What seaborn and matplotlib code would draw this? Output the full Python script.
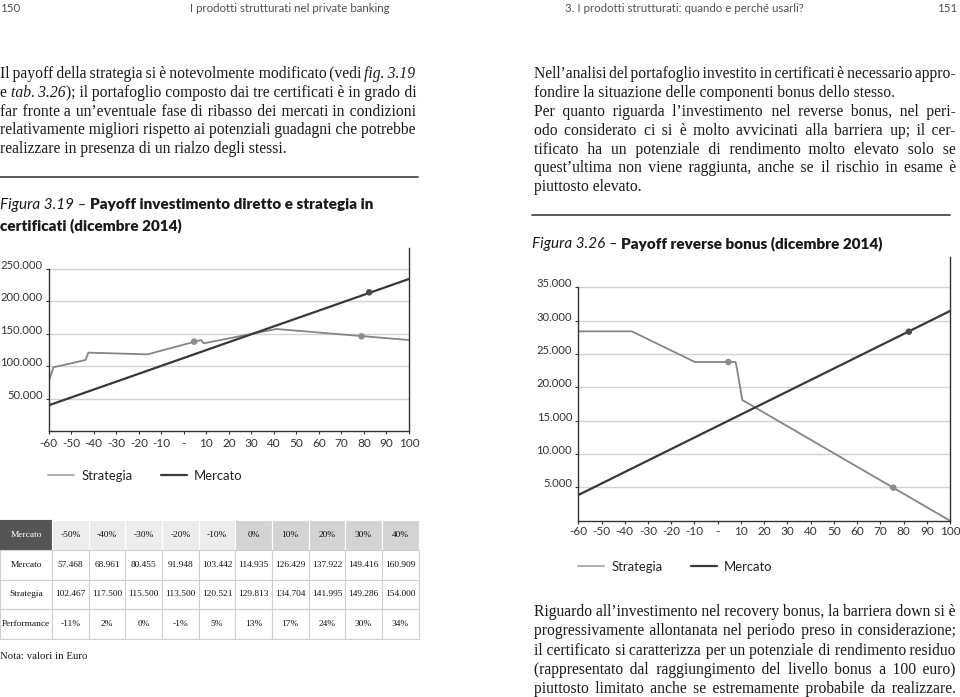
import matplotlib
matplotlib.use("Agg")
import matplotlib.pyplot as plt
import seaborn as sns
import pandas as pd
from matplotlib.lines import Line2D

# ---------------- data ----------------
x_ticks = [-60, -50, -40, -30, -20, -10, 0, 10, 20, 30, 40, 50, 60, 70, 80, 90, 100]
x_tick_labels = ["-60", "-50", "-40", "-30", "-20", "-10", "-", "10", "20", "30",
                 "40", "50", "60", "70", "80", "90", "100"]

# Figura 3.19
f319_merc_x = [-60, 100]
f319_merc_y = [39600, 234600]
f319_strat_x = [-60, -57.9, -43.6, -42.4, -16.1, 7.6, 8.9, 41.1, 100]
f319_strat_y = [76100, 98300, 109600, 120900, 118300, 140400, 135300, 157400, 140400]
f319_mark_x = [4.6, 78.9, 82.3]
f319_mark_y = [137900, 146100, 214000]
f319_mark_s = ["Strategia", "Strategia", "Mercato"]
f319_yticks = [50000, 100000, 150000, 200000, 250000]
f319_ylabels = ["50.000", "100.000", "150.000", "200.000", "250.000"]

# Figura 3.26
f326_merc_x = [-60, 100]
f326_merc_y = [3850, 31450]
f326_strat_x = [-60, -37.0, -9.8, 7.7, 8.3, 10.6, 100]
f326_strat_y = [28400, 28400, 23800, 23800, 22800, 18100, 0]
f326_mark_x = [4.6, 75.6, 82.3]
f326_mark_y = [23800, 4950, 28350]
f326_mark_s = ["Strategia", "Strategia", "Mercato"]
f326_yticks = [5000, 10000, 15000, 20000, 25000, 30000, 35000]
f326_ylabels = ["5.000", "10.000", "15.000", "20.000", "25.000", "30.000", "35.000"]

# Tabella 3.26
tab_header = ["Mercato", "-50%", "-40%", "-30%", "-20%", "-10%", "0%", "10%", "20%", "30%", "40%"]
tab_mercato = ["Mercato", "57.468", "68.961", "80.455", "91.948", "103.442", "114.935",
               "126.429", "137.922", "149.416", "160.909"]
tab_strategia = ["Strategia", "102.467", "117.500", "115.500", "113.500", "120.521",
                 "129.813", "134.704", "141.995", "149.286", "154.000"]
tab_perf = ["Performance", "-11%", "2%", "0%", "-1%", "5%", "13%", "17%", "24%", "30%", "34%"]

# Texts
header_texts = ["150", "I prodotti strutturati nel private banking",
                "3. I prodotti strutturati: quando e perché usarli?", "151"]
left_par = [
    "Il payoff della strategia si è notevolmente modificato (vedi _fig._ _3.19_",
    "e _tab._ _3.26_); il portafoglio composto dai tre certificati è in grado di",
    "far fronte a un’eventuale fase di ribasso dei mercati in condizioni",
    "relativamente migliori rispetto ai potenziali guadagni che potrebbe",
    "realizzare in presenza di un rialzo degli stessi.",
]
left_par_justify = [True, True, True, True, False]
right_par = [
    "Nell’analisi del portafoglio investito in certificati è necessario appro-",
    "fondire la situazione delle componenti bonus dello stesso.",
    "Per quanto riguarda l’investimento nel reverse bonus, nel peri-",
    "odo considerato ci si è molto avvicinati alla barriera up; il cer-",
    "tificato ha un potenziale di rendimento molto elevato solo se",
    "quest’ultima non viene raggiunta, anche se il rischio in esame è",
    "piuttosto elevato.",
]
right_par_justify = [True, False, True, True, True, True, False]
bottom_par = [
    "Riguardo all’investimento nel recovery bonus, la barriera down si è",
    "progressivamente allontanata nel periodo preso in considerazione;",
    "il certificato si caratterizza per un potenziale di rendimento residuo",
    "(rappresentato dal raggiungimento del livello bonus a 100 euro)",
    "piuttosto limitato anche se estremamente probabile da realizzare.",
]
cap319 = ("Figura 3.19 – ", ["Payoff investimento diretto e strategia in", "certificati (dicembre 2014)"])
cap326 = ("Figura 3.26 – ", ["Payoff reverse bonus (dicembre 2014)"])
nota = "Nota: valori in Euro"

# ---------------- style ----------------
sns.set_style("white")
SANS = ["Lato", "DejaVu Sans"]
SERIF = ["Liberation Serif", "DejaVu Serif"]
plt.rcParams["font.family"] = SANS

W, H = 960, 697
fig = plt.figure(figsize=(9.6, 6.97), dpi=100)
ov = fig.add_axes([0, 0, 1, 1])
ov.set_xlim(0, W)
ov.set_ylim(H, 0)
ov.axis("off")
ov.set_zorder(-1)
renderer = fig.canvas.get_renderer()

C_STRAT = "#858585"
C_MERC = "#383838"
C_TEXT = "#1a1a1a"


def px2pt(px):
    return px * 72 / 100


_wcache = {}


def text_width(s, size, family, style="normal", weight="normal"):
    key = (s, size, tuple(family), style, weight)
    if key not in _wcache:
        t = ov.text(0, 0, s, fontsize=size, family=family, style=style, weight=weight)
        _wcache[key] = t.get_window_extent(renderer).width
        t.remove()
    return _wcache[key]


def space_width(ch, size, family, style):
    return text_width("a" + ch + "a", size, family, style) - text_width("aa", size, family, style)


def draw_line(line, x0, x1, y, size, justify=True, family=SERIF, color=C_TEXT):
    items = []
    for tok in line.split(" "):
        segs = tok.split("_")
        items.append([(s, "italic" if i % 2 else "normal") for i, s in enumerate(segs) if s])
    wtok = [sum(text_width(s, size, family, st) for s, st in p) for p in items]
    n = len(items)
    sw = space_width(" ", size, family, "normal")
    if justify and n > 1:
        g = (x1 - x0 - sum(wtok)) / (n - 1)
    else:
        g = sw
    runs = []
    x = x0
    carry = 0.0
    for k, p in enumerate(items):
        for s, st in p:
            if runs and runs[-1][1] == st and runs[-1][3]:
                runs[-1][2] += s
            else:
                runs.append([x, st, s, True])
            x += text_width(s, size, family, st)
        if k < n - 1:
            st = p[-1][1]
            target = g + carry
            ssp = space_width(" ", size, family, st)
            tsp = space_width("\u2009", size, family, st)
            hsp = space_width("\u200a", size, family, st)
            if target >= ssp:
                fill, fw = " ", ssp
            elif target >= tsp:
                fill, fw = "\u2009", tsp
            else:
                fill, fw = "\u200a", hsp
            nh = max(0, int(round((target - fw) / hsp))) if hsp > 0 else 0
            fill = fill + "\u200a" * nh
            fw = fw + nh * hsp
            carry = target - fw
            runs[-1][2] += fill
            x += fw
            nxt_style = items[k + 1][0][1]
            if nxt_style != st:
                runs[-1][3] = False
    for xs, st, s, _ in runs:
        ov.text(xs, y, s, fontsize=size, family=family, style=st, color=color,
                ha="left", va="baseline")


BODY = px2pt(15.6)
# header
HS = px2pt(11.5)
for txt, hx, ha in zip(header_texts, [0, 190, 565, 957], ["left", "left", "left", "right"]):
    ov.text(hx, 12, txt, fontsize=HS, color="#505050", va="baseline", ha=ha)

# paragraphs
for i, ln in enumerate(left_par):
    draw_line(ln, 0, 416, 78 + i * 18.8, BODY, justify=left_par_justify[i])
for i, ln in enumerate(right_par):
    draw_line(ln, 534, 956, 78.5 + i * 18.8, BODY, justify=right_par_justify[i])
for i, ln in enumerate(bottom_par):
    draw_line(ln, 534, 956, 616 + i * 19.3, BODY, justify=True)

# rules
ov.plot([0, 418], [176.7, 176.7], color="#3a3a3a", lw=1.2)
ov.plot([532, 950], [215, 215], color="#3a3a3a", lw=1.2)

# captions
CS = px2pt(15.2)


def caption(x, y0, cap):
    it, lines = cap
    w = text_width(it, CS, SANS, "italic")
    ov.text(x, y0, it, fontsize=CS, style="italic", color=C_TEXT, va="baseline")
    for k, ln in enumerate(lines):
        xx = x + w if k == 0 else x
        ov.text(xx, y0 + k * 21.5, ln, fontsize=CS, weight="heavy", color=C_TEXT, va="baseline")


caption(0, 209, cap319)
caption(532, 248, cap326)


# ---------------- charts ----------------
def make_chart(rect, ylim_top, merc_x, merc_y, strat_x, strat_y, mk_x, mk_y, mk_s,
               yticks, ylabels, ytop_spine, xpad):
    ax = fig.add_axes(rect)
    df = pd.concat([
        pd.DataFrame({"x": strat_x, "v": strat_y, "serie": "Strategia"}),
        pd.DataFrame({"x": merc_x, "v": merc_y, "serie": "Mercato"}),
    ])
    sns.lineplot(data=df, x="x", y="v", hue="serie", estimator=None, sort=False,
                 palette={"Strategia": C_STRAT, "Mercato": C_MERC}, ax=ax, legend=False)
    for ln, lw in zip(ax.lines, [1.3, 1.6]):
        ln.set_linewidth(lw)
    mk = pd.DataFrame({"x": mk_x, "v": mk_y, "serie": mk_s})
    sns.scatterplot(data=mk, x="x", y="v", hue="serie",
                    palette={"Strategia": "#8c8c8c", "Mercato": "#4a4a4a"},
                    s=22, linewidth=0, ax=ax, legend=False, zorder=5)
    ax.set_xlim(-60, 100)
    ax.set_ylim(0, ylim_top)
    ax.set_xticks(x_ticks)
    ax.set_xticklabels(x_tick_labels)
    ax.set_yticks(yticks)
    ax.set_yticklabels(ylabels)
    for lab in ax.get_yticklabels():
        lab.set_va("baseline")
    ax.set_xlabel("")
    ax.set_ylabel("")
    ax.grid(axis="y", color="#d2d2d2", lw=1.0)
    ax.grid(axis="x", visible=False)
    ax.set_axisbelow(True)
    ax.patch.set_alpha(0)
    for s in ["left", "bottom", "right"]:
        ax.spines[s].set_visible(True)
        ax.spines[s].set_color("#333333")
        ax.spines[s].set_linewidth(1.0)
    ax.spines["top"].set_visible(False)
    ax.spines["left"].set_bounds(0, ytop_spine)
    ax.tick_params(axis="y", direction="out", length=2.4, width=0.8, color="#333333",
                   pad=2.0, labelsize=px2pt(11.3), labelcolor="#333333", left=True)
    ax.tick_params(axis="x", direction="out", length=2.2, width=0.8, color="#333333",
                   pad=xpad, labelsize=px2pt(11.8), labelcolor="#333333", bottom=True)
    return ax


def frect(x0, x1, ybot, ytop):
    return [x0 / W, 1 - ybot / H, (x1 - x0) / W, (ybot - ytop) / H]


ax1 = make_chart(frect(48.7, 409, 431, 248), 282400, f319_merc_x, f319_merc_y,
                 f319_strat_x, f319_strat_y, f319_mark_x, f319_mark_y, f319_mark_s,
                 f319_yticks, f319_ylabels, 250000, 3.0)
ax2 = make_chart(frect(578.3, 950, 520.7, 257), 39550, f326_merc_x, f326_merc_y,
                 f326_strat_x, f326_strat_y, f326_mark_x, f326_mark_y, f326_mark_s,
                 f326_yticks, f326_ylabels, 35000, 1.6)

# legends
for ax, (lx, ly) in [(ax1, (48, 475.7)), (ax2, (578, 566.7))]:
    handles = [Line2D([], [], color="#a8a8a8", lw=1.3), Line2D([], [], color="#3a3a3a", lw=1.6)]
    fig.legend(handles, ["Strategia", "Mercato"], loc="center left",
               bbox_to_anchor=(lx / W, 1 - ly / H), ncol=2, frameon=False,
               fontsize=px2pt(13), handlelength=2.0, handletextpad=0.55,
               columnspacing=2.2, borderpad=0, borderaxespad=0, labelcolor="#222222")

# ---------------- table ----------------
rows = [tab_mercato, tab_strategia, tab_perf]
cell_text = [tab_header] + rows
col_w = [52] + [36.63] * 10
cell_colors = [["#555555"] + ["#ececec"] * 5 + ["#d3d3d3"] * 5] + [["#ffffff"] * 11] * 3
tbl = ov.table(cellText=cell_text, cellColours=cell_colors, colWidths=col_w,
               cellLoc="center", bbox=[0, 1 - 639 / H, 418.5 / W, (639 - 520) / H])
tbl.auto_set_font_size(False)
for (r, c), cell in tbl.get_celld().items():
    cell.set_edgecolor("#cfcfcf")
    cell.set_linewidth(0.8)
    t = cell.get_text()
    t.set_fontsize(px2pt(9.4))
    t.set_family(SERIF)
    t.set_color("#ffffff" if (r == 0 and c == 0) else "#111111")
    if r == 0:
        cell.set_edgecolor("#ffffff" if c > 0 else "#555555")

ov.text(0, 659, nota, fontsize=px2pt(10.8), family=SERIF, color=C_TEXT, va="baseline")

fig.savefig("out.png", dpi=100)
